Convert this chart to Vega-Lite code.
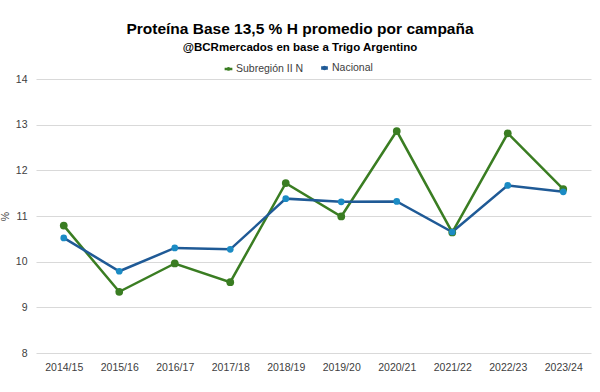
{
  "$schema": "https://vega.github.io/schema/vega-lite/v6.json",
  "width": 555,
  "height": 274,
  "autosize": {"type": "none"},
  "padding": {"left": 36, "top": 79, "right": 9, "bottom": 39},
  "background": "white",
  "title": {
    "text": "Proteína  Base 13,5 % H promedio por campaña",
    "subtitle": "@BCRmercados  en base a Trigo Argentino",
    "anchor": "middle",
    "frame": "group",
    "dx": -13.5,
    "offset": 9,
    "font": "Liberation Sans",
    "fontSize": 15.5,
    "fontWeight": "bold",
    "color": "#000000",
    "subtitleFont": "Liberation Sans",
    "subtitleFontSize": 11.5,
    "subtitleFontWeight": "bold",
    "subtitleColor": "#000000",
    "subtitlePadding": 4
  },
  "data": {
    "values": [
      {"campana": "2014/15", "serie": "Subregión II N", "valor": 10.79},
      {"campana": "2015/16", "serie": "Subregión II N", "valor": 9.34},
      {"campana": "2016/17", "serie": "Subregión II N", "valor": 9.96},
      {"campana": "2017/18", "serie": "Subregión II N", "valor": 9.55},
      {"campana": "2018/19", "serie": "Subregión II N", "valor": 11.72},
      {"campana": "2019/20", "serie": "Subregión II N", "valor": 10.99},
      {"campana": "2020/21", "serie": "Subregión II N", "valor": 12.86},
      {"campana": "2021/22", "serie": "Subregión II N", "valor": 10.64},
      {"campana": "2022/23", "serie": "Subregión II N", "valor": 12.81},
      {"campana": "2023/24", "serie": "Subregión II N", "valor": 11.59},
      {"campana": "2014/15", "serie": "Nacional", "valor": 10.52},
      {"campana": "2015/16", "serie": "Nacional", "valor": 9.79},
      {"campana": "2016/17", "serie": "Nacional", "valor": 10.3},
      {"campana": "2017/18", "serie": "Nacional", "valor": 10.27},
      {"campana": "2018/19", "serie": "Nacional", "valor": 11.38},
      {"campana": "2019/20", "serie": "Nacional", "valor": 11.31},
      {"campana": "2020/21", "serie": "Nacional", "valor": 11.32},
      {"campana": "2021/22", "serie": "Nacional", "valor": 10.65},
      {"campana": "2022/23", "serie": "Nacional", "valor": 11.67},
      {"campana": "2023/24", "serie": "Nacional", "valor": 11.53}
    ]
  },
  "encoding": {
    "x": {
      "field": "campana",
      "type": "ordinal",
      "title": null,
      "scale": {"type": "point", "padding": 0.5},
      "axis": {
        "labelAngle": 0,
        "domain": false,
        "ticks": false,
        "grid": false,
        "labelPadding": 9,
        "labelFont": "Liberation Sans",
        "labelFontSize": 10.5,
        "labelColor": "#404040"
      }
    },
    "y": {
      "field": "valor",
      "type": "quantitative",
      "title": "%",
      "scale": {"domain": [8, 14], "nice": false, "zero": false},
      "axis": {
        "values": [8, 9, 10, 11, 12, 13, 14],
        "domain": false,
        "ticks": false,
        "grid": true,
        "gridColor": "#d9d9d9",
        "gridWidth": 1,
        "labelPadding": 9,
        "labelFont": "Liberation Sans",
        "labelFontSize": 10.5,
        "labelColor": "#404040",
        "titleFont": "Liberation Sans",
        "titleFontSize": 10.5,
        "titleFontWeight": "normal",
        "titleColor": "#404040",
        "titleX": -26,
        "titleY": 137
      }
    }
  },
  "layer": [
    {
      "mark": {"type": "line", "strokeWidth": 2.5},
      "encoding": {
        "color": {
          "field": "serie",
          "type": "nominal",
          "sort": ["Subregión II N", "Nacional"],
          "scale": {"domain": ["Subregión II N", "Nacional"], "range": ["#3a7d22", "#1f5a96"]},
          "legend": {
            "title": null,
            "orient": "none",
            "direction": "horizontal",
            "legendX": 187,
            "legendY": -17,
            "symbolType": "M-1,0L1,0M-0.17,0A0.17,0.17 0 1,1 0.17,0A0.17,0.17 0 1,1 -0.17,0Z",
            "symbolSize": 900,
            "symbolStrokeWidth": 2.5,
            "labelFont": "Liberation Sans",
            "labelFontSize": 10.5,
            "labelColor": "#404040",
            "labelOffset": 2,
            "columnPadding": 10,
            "encode": {
              "symbols": {
                "update": {
                  "shape": {"value": "M-1,0L1,0M-0.17,0A0.17,0.17 0 1,1 0.17,0A0.17,0.17 0 1,1 -0.17,0Z"},
                  "size": {"value": 900},
                  "fill": {"scale": "color", "field": "value"},
                  "stroke": {"scale": "color", "field": "value"},
                  "strokeWidth": {"value": 2.5}
                }
              }
            }
          }
        },
        "strokeWidth": {
          "field": "serie",
          "type": "nominal",
          "scale": {"domain": ["Subregión II N", "Nacional"], "range": [2.5, 3.5]},
          "legend": null
        }
      }
    },
    {
      "mark": {"type": "point", "filled": true, "opacity": 1},
      "encoding": {
        "fill": {
          "field": "serie",
          "type": "nominal",
          "scale": {"domain": ["Subregión II N", "Nacional"], "range": ["#3a7d22", "#1b8bc4"]},
          "legend": null
        },
        "size": {
          "field": "serie",
          "type": "nominal",
          "scale": {"domain": ["Subregión II N", "Nacional"], "range": [60, 45]},
          "legend": null
        }
      }
    }
  ],
  "config": {
    "view": {"stroke": null}
  }
}
